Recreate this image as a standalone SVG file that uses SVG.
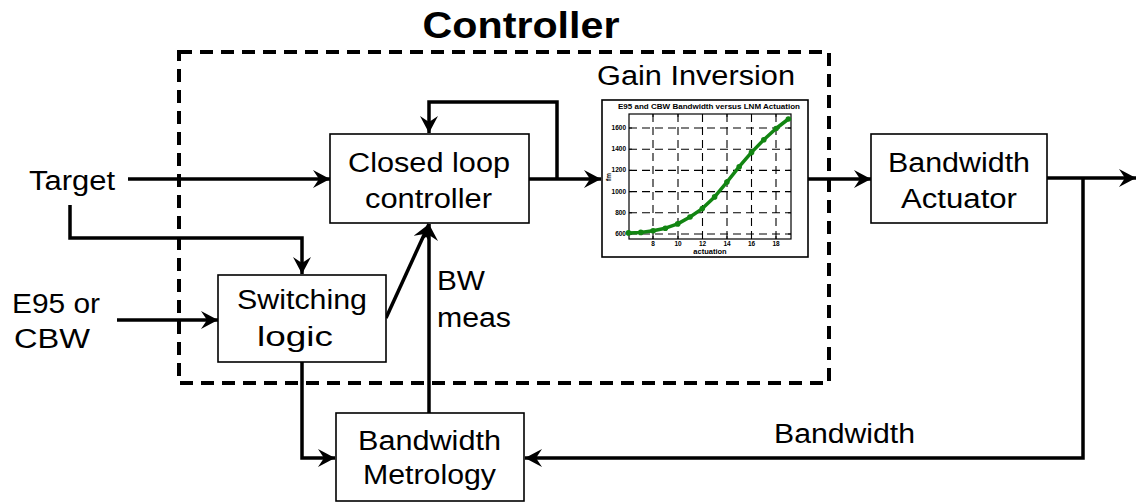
<svg xmlns="http://www.w3.org/2000/svg" width="1138" height="502" viewBox="0 0 1138 502">
<style>
.box{fill:#fff;stroke:#000;stroke-width:1.6}
.t{font-family:"Liberation Sans",Arial,sans-serif;font-size:27px;fill:#000}
.c{fill:none;stroke:#000;stroke-width:3.5}
.grid{stroke:#000;stroke-width:1.1;stroke-dasharray:8 5;fill:none}
.tick{font-family:"Liberation Sans",Arial,sans-serif;font-size:6.5px;font-weight:bold;fill:#000}
</style>
<defs>
<marker id="ah" markerUnits="userSpaceOnUse" markerWidth="18" markerHeight="18" refX="17" refY="9" orient="auto">
<path d="M0,0 L17,9 L0,18 L6,9 Z" fill="#000"/>
</marker>
</defs>
<rect width="1138" height="502" fill="#fff"/>

<g id="controller-frame">
<rect x="179" y="52" width="650" height="331" fill="none" stroke="#000" stroke-width="4" stroke-dasharray="13 8"/>
<text x="521" y="38" text-anchor="middle" font-family="Liberation Sans,Arial,sans-serif" font-size="37" font-weight="bold" textLength="197" lengthAdjust="spacingAndGlyphs">Controller</text>
</g>

<g id="connectors">
<path class="c" d="M128,179 L330,179" marker-end="url(#ah)"/>
<path class="c" d="M70,205 L70,238 L302,238 L302,274" marker-end="url(#ah)"/>
<path class="c" d="M117,320 L218,320" marker-end="url(#ah)"/>
<path class="c" d="M386,318 L429,224" marker-end="url(#ah)"/>
<path class="c" d="M429,413 L429,224" marker-end="url(#ah)"/>
<path class="c" d="M529,179 L601,179" marker-end="url(#ah)"/>
<path class="c" d="M557,179 L557,102 L429,102 L429,133" marker-end="url(#ah)"/>
<path class="c" d="M808,179 L871,179" marker-end="url(#ah)"/>
<path class="c" d="M1047,178 L1136,178" marker-end="url(#ah)"/>
<path class="c" d="M1083,178 L1083,458 L525,458" marker-end="url(#ah)"/>
<path class="c" d="M302,362 L302,458 L335,458" marker-end="url(#ah)"/>
</g>

<g id="inputs">
<text class="t" x="29" y="190" textLength="86" lengthAdjust="spacingAndGlyphs">Target</text>
<text class="t" x="12" y="313" textLength="88" lengthAdjust="spacingAndGlyphs">E95 or</text>
<text class="t" x="14" y="348" textLength="76" lengthAdjust="spacingAndGlyphs">CBW</text>
</g>

<g id="closed-loop-controller">
<rect class="box" x="330" y="134" width="199" height="89"/>
<text class="t" x="348" y="172" textLength="162" lengthAdjust="spacingAndGlyphs">Closed loop</text>
<text class="t" x="365" y="208" textLength="127" lengthAdjust="spacingAndGlyphs">controller</text>
</g>

<g id="switching-logic">
<rect class="box" x="218" y="275" width="168" height="87"/>
<text class="t" x="237" y="309" textLength="130" lengthAdjust="spacingAndGlyphs">Switching</text>
<text class="t" x="257" y="346" textLength="76" lengthAdjust="spacingAndGlyphs">logic</text>
</g>

<g id="bw-meas-label">
<text class="t" x="437" y="290" textLength="48" lengthAdjust="spacingAndGlyphs">BW</text>
<text class="t" x="437" y="327" textLength="74" lengthAdjust="spacingAndGlyphs">meas</text>
</g>

<g id="gain-inversion">
<text class="t" x="597" y="85" textLength="198" lengthAdjust="spacingAndGlyphs" font-size="25">Gain Inversion</text>
<rect class="box" x="602" y="100" width="206" height="157" stroke-width="2"/>
<text x="709" y="109" text-anchor="middle" font-family="Liberation Sans,Arial,sans-serif" font-size="7" font-weight="bold" textLength="182" lengthAdjust="spacingAndGlyphs">E95 and CBW Bandwidth versus LNM Actuation</text>
<rect x="629" y="114" width="162" height="125" fill="none" stroke="#000" stroke-width="1.2"/>
<g class="grid">
<path d="M653,114 V239 M678,114 V239 M702.5,114 V239 M727,114 V239 M751.5,114 V239 M776,114 V239"/>
<path d="M629,234 H791 M629,212.8 H791 M629,191.6 H791 M629,170.4 H791 M629,149.2 H791 M629,128 H791"/>
</g>
<path d="M653,239 v-3 M678,239 v-3 M702.5,239 v-3 M727,239 v-3 M751.5,239 v-3 M776,239 v-3 M653,114 v3 M678,114 v3 M702.5,114 v3 M727,114 v3 M751.5,114 v3 M776,114 v3 M629,234 h3 M629,212.8 h3 M629,191.6 h3 M629,170.4 h3 M629,149.2 h3 M629,128 h3 M791,234 h-3 M791,212.8 h-3 M791,191.6 h-3 M791,170.4 h-3 M791,149.2 h-3 M791,128 h-3" stroke="#000" stroke-width="1"/>
<g class="tick" text-anchor="end">
<text x="626" y="236">600</text>
<text x="626" y="214.8">800</text>
<text x="626" y="193.6">1000</text>
<text x="626" y="172.4">1200</text>
<text x="626" y="151.2">1400</text>
<text x="626" y="130">1600</text>
</g>
<g class="tick" text-anchor="middle">
<text x="653" y="246">8</text>
<text x="678" y="246">10</text>
<text x="702.5" y="246">12</text>
<text x="727" y="246">14</text>
<text x="751.5" y="246">16</text>
<text x="776" y="246">18</text>
<text x="710" y="253.5" font-size="7.5">actuation</text>
<text x="0" y="0" transform="translate(611,177) rotate(-90)">fm</text>
</g>
<polyline points="628.5,232.9 640.8,232.4 653.1,230.8 665.4,228.2 677.7,223.9 690,217 702.3,208.6 714.6,196.9 726.9,182.1 739.2,166.7 751.5,152.4 763.8,139.7 776.1,128.5 788.4,119" fill="none" stroke="#128512" stroke-width="3.5" stroke-linejoin="round"/>
<g fill="#128512">
<circle cx="628.5" cy="232.9" r="2.8"/><circle cx="640.8" cy="232.4" r="2.8"/><circle cx="653.1" cy="230.8" r="2.8"/><circle cx="665.4" cy="228.2" r="2.8"/><circle cx="677.7" cy="223.9" r="2.8"/><circle cx="690" cy="217" r="2.8"/><circle cx="702.3" cy="208.6" r="2.8"/><circle cx="714.6" cy="196.9" r="2.8"/><circle cx="726.9" cy="182.1" r="2.8"/><circle cx="739.2" cy="166.7" r="2.8"/><circle cx="751.5" cy="152.4" r="2.8"/><circle cx="763.8" cy="139.7" r="2.8"/><circle cx="776.1" cy="128.5" r="2.8"/><circle cx="788.4" cy="119" r="2.8"/>
</g>
</g>

<g id="bandwidth-actuator">
<rect class="box" x="871" y="134" width="176" height="89"/>
<text class="t" x="888" y="172" textLength="142" lengthAdjust="spacingAndGlyphs">Bandwidth</text>
<text class="t" x="901" y="208" textLength="116" lengthAdjust="spacingAndGlyphs">Actuator</text>
</g>

<g id="bandwidth-label">
<text class="t" x="774" y="443" textLength="141" lengthAdjust="spacingAndGlyphs">Bandwidth</text>
</g>

<g id="bandwidth-metrology">
<rect class="box" x="336" y="413" width="188" height="88"/>
<text class="t" x="358" y="450" textLength="143" lengthAdjust="spacingAndGlyphs">Bandwidth</text>
<text class="t" x="363" y="484" textLength="133" lengthAdjust="spacingAndGlyphs">Metrology</text>
</g>
</svg>
